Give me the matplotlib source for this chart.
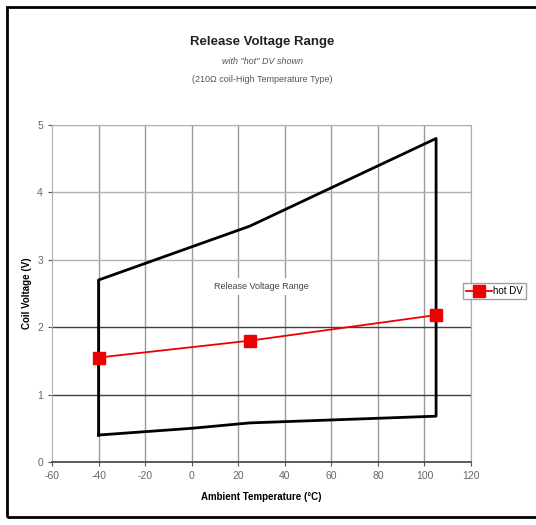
import matplotlib.pyplot as plt
from matplotlib.patches import Rectangle

plt.rcParams['font.family'] = ['Liberation Sans', 'DejaVu Sans']
plt.rcParams['axes.unicode_minus'] = False

# release voltage range envelope (°C, V)
upper_temp = [-40, 25, 105]
upper_volt = [2.7, 3.5, 4.8]
lower_temp = [-40, 0, 25, 105]
lower_volt = [0.4, 0.5, 0.58, 0.68]

# hot DV series
hot_temp = [-40, 25, 105]
hot_volt = [1.55, 1.8, 2.18]

x_ticks = [-60, -40, -20, 0, 20, 40, 60, 80, 100, 120]
y_ticks = [0, 1, 2, 3, 4, 5]


fig = plt.figure(figsize=(5.36, 5.25), dpi=100)
ax = fig.add_axes([52/536, 1 - 462/525, (471 - 52)/536, (462 - 125)/525])

# gridlines
for xv in x_ticks[1:]:
    ax.axvline(xv, color='#9a9a9a', lw=1, zorder=0)
for yv in y_ticks[1:]:
    c = '#404040' if yv in (1, 2) else '#b0b0b0'
    ax.axhline(yv, color=c, lw=1, zorder=0)

# envelope as closed outline
env_x = [upper_temp[0]] + upper_temp + [upper_temp[-1]] + lower_temp[::-1]
env_y = [lower_volt[0]] + upper_volt + [lower_volt[-1]] + lower_volt[::-1]
ax.plot(env_x, env_y, color='black', lw=2, zorder=3)

ax.plot(hot_temp, hot_volt, color='#ee0000', lw=1.3, marker='s',
        markersize=8, label='hot DV', zorder=4)

ax.text(30, 2.6, 'Release Voltage Range', fontsize=6.5, color='#444444',
        ha='center', va='center', zorder=2,
        bbox=dict(facecolor='white', edgecolor='none', pad=3))

ax.set_xlim(-60, 120)
ax.set_ylim(0, 5)
ax.set_xticks(x_ticks)
ax.set_yticks(y_ticks)
ax.tick_params(labelsize=7.5, labelcolor='#666666', length=3, color='#555555')
for s in ['top', 'right', 'left']:
    ax.spines[s].set_color('#b0b0b0')
ax.spines['bottom'].set_color('#404040')
ax.spines['bottom'].set_linewidth(1.2)

ax.set_xlabel('Ambient Temperature (°C)', fontsize=7, fontweight='bold', labelpad=8)
ax.set_ylabel('Coil Voltage (V)', fontsize=7, fontweight='bold', labelpad=4)

fig.text(262/536, 1 - 42/525, 'Release Voltage Range', fontsize=9.5,
         fontweight='bold', ha='center', va='center', color='#222222')
fig.text(262/536, 1 - 61/525, 'with "hot" DV shown', fontsize=6.5,
         style='italic', ha='center', va='center', color='#555555')
fig.text(262/536, 1 - 79/525, '(210Ω coil-High Temperature Type)', fontsize=6.5,
         ha='center', va='center', color='#555555')

fig.legend(loc='center left', bbox_to_anchor=(463/536, 1 - 291/525),
           fontsize=7, frameon=True, fancybox=False, edgecolor='#888888',
           handlelength=2.6, borderpad=0.35, handletextpad=0.1, markerscale=1.0,
           borderaxespad=0)

fig.patches.append(Rectangle((7/536, 8/525), 540/536, 510/525,
                             transform=fig.transFigure, fill=False,
                             edgecolor='black', lw=2))

fig.savefig('out.png', dpi=100)
